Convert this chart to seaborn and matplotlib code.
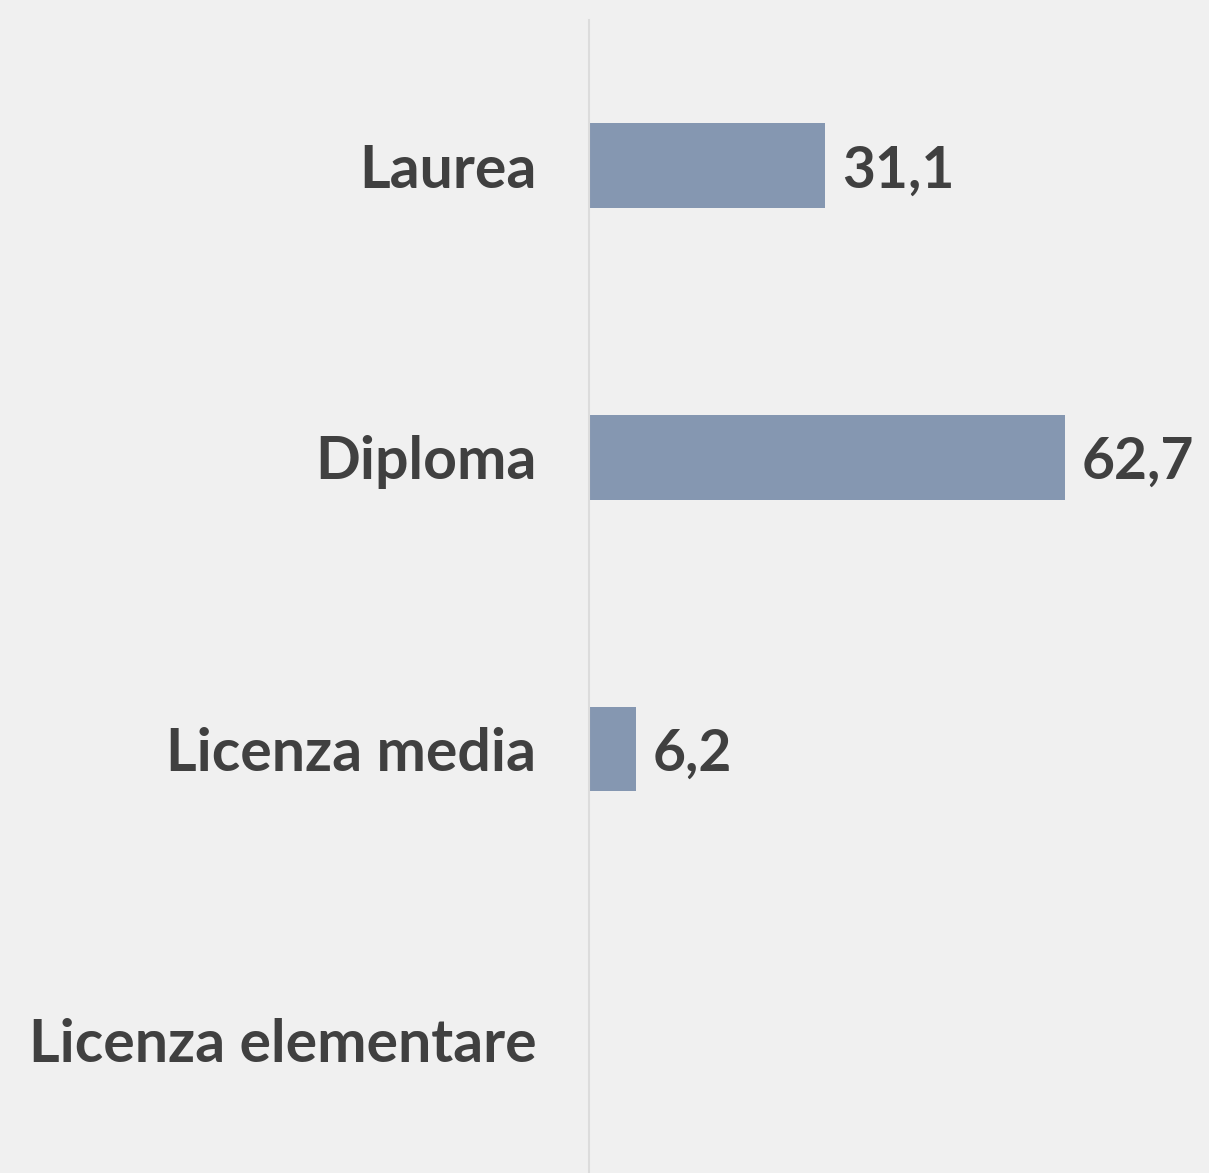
import matplotlib
matplotlib.use("Agg")
import matplotlib.pyplot as plt
import pandas as pd
import seaborn as sns

# dati
categorie = ["Laurea", "Diploma", "Licenza media", "Licenza elementare"]
valori = [31.1, 62.7, 6.2, 0.0]
etichette = ["31,1", "62,7", "6,2", ""]

df = pd.DataFrame({"titolo": categorie, "perc": valori})

sns.set_style("white")
plt.rcParams["font.family"] = ["Lato", "DejaVu Sans"]

fig = plt.figure(figsize=(12.09, 11.73), dpi=100, facecolor="#f0f0f0")
ax = fig.add_axes([589 / 1209, 0, 620 / 1209, 1153 / 1173])
ax.set_facecolor("#f0f0f0")

sns.barplot(
    data=df, x="perc", y="titolo", order=categorie,
    color="#8597b1", saturation=1, width=0.29, linewidth=0, ax=ax,
)

ax.set_xlim(0, 81.6)
ax.set_ylim(3.455, -0.5)

for sp in ["top", "right", "bottom"]:
    ax.spines[sp].set_visible(False)
ax.spines["left"].set_color("#dcdcdc")
ax.spines["left"].set_linewidth(1.5)

ax.set_xticks([])
ax.set_xlabel("")
ax.set_ylabel("")
ax.tick_params(axis="y", length=0, pad=38)
for t in ax.get_yticklabels():
    t.set_fontsize(42.5)
    t.set_fontweight("bold")
    t.set_color("#404040")

txts = ax.bar_label(ax.containers[0], labels=etichette, padding=12,
                    fontsize=41, fontweight="bold", color="#404040")
# abbassa leggermente le etichette dei valori
for t in txts:
    t.set_va("center_baseline")

fig.savefig("out.png", dpi=100, facecolor=fig.get_facecolor())
